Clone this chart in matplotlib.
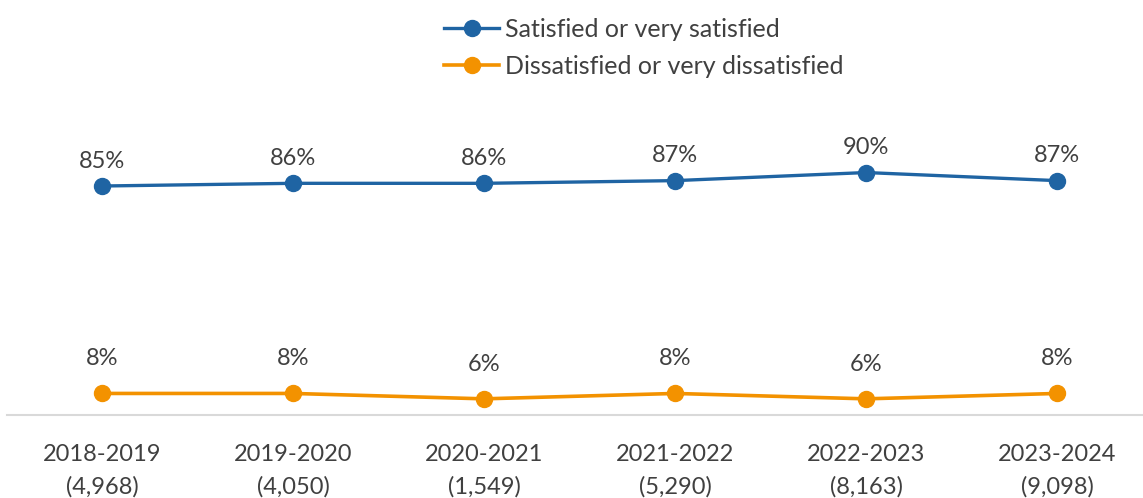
import matplotlib
matplotlib.use("Agg")
import matplotlib.pyplot as plt

years = ["2018-2019", "2019-2020", "2020-2021", "2021-2022", "2022-2023", "2023-2024"]
counts = ["(4,968)", "(4,050)", "(1,549)", "(5,290)", "(8,163)", "(9,098)"]
satisfied = [85, 86, 86, 87, 90, 87]
dissatisfied = [8, 8, 6, 8, 6, 8]

BLUE = "#1F64A3"
ORANGE = "#F39200"
TEXT = "#404040"
FONT = "Lato"
FS = 17

plt.rcParams["font.family"] = [FONT, "DejaVu Sans"]

W, H = 1143, 498
fig = plt.figure(figsize=(W / 100, H / 100), dpi=100)
left_px, right_px = 6.5, 1152.5
bottom_px, top_px = 415, 415 - 269.4
ax = fig.add_axes([left_px / W, (H - bottom_px) / H, (right_px - left_px) / W, (bottom_px - top_px) / H])

x = list(range(len(years)))
ax.plot(x, satisfied, color=BLUE, lw=2.4, marker="o", ms=11.5, label="Satisfied or very satisfied", clip_on=False)
ax.plot(x, dissatisfied, color=ORANGE, lw=2.6, marker="o", ms=11.5, label="Dissatisfied or very dissatisfied", clip_on=False)

for xi, v in zip(x, satisfied):
    ax.annotate(f"{v}%", (xi, v), xytext=(0, 18), textcoords="offset points",
                ha="center", va="center", fontsize=FS, color=TEXT)
for xi, v in zip(x, dissatisfied):
    ax.annotate(f"{v}%", (xi, v), xytext=(0, 25), textcoords="offset points",
                ha="center", va="center", fontsize=FS, color=TEXT)

ax.set_xlim(-0.5, 5.5)
ax.set_ylim(0, 100)
ax.set_yticks([])
ax.set_xticks(x)
ax.set_xticklabels([f"{y}\n{c}" for y, c in zip(years, counts)], fontsize=FS, color=TEXT, linespacing=1.64)
ax.tick_params(axis="x", length=0, pad=21)
for s in ["top", "right", "left"]:
    ax.spines[s].set_visible(False)
ax.spines["bottom"].set_color("#D9D9D9")
ax.spines["bottom"].set_linewidth(1.5)
ax.patch.set_alpha(0)

fig.legend(loc="upper left", bbox_to_anchor=(444 / W, 1 - 18 / H), frameon=False,
           fontsize=18, handlelength=2.2, handletextpad=0.25, labelspacing=0.56,
           borderpad=0, borderaxespad=0, labelcolor=TEXT)

fig.savefig("out.png", dpi=100)
